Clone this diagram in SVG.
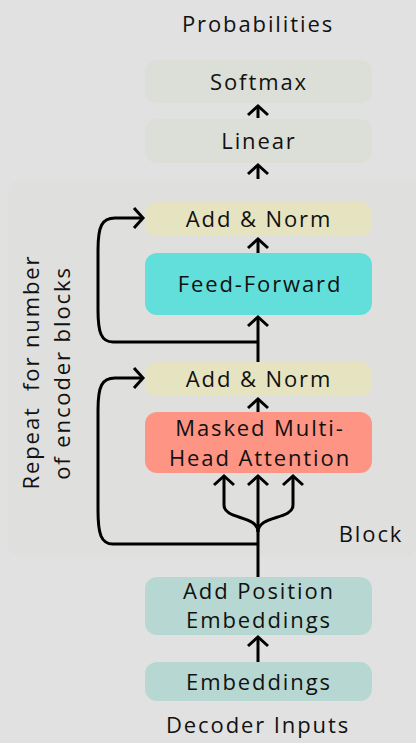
<svg xmlns="http://www.w3.org/2000/svg" width="416" height="743" viewBox="0 0 416 743">
<style>
  text { font-family: "Open Sans", "Lato", sans-serif; font-size: 22px; fill: #111; text-anchor: middle; letter-spacing: 1.9px; }
  .box { stroke: none; }
  .out { fill: #dcdfd7; }
  .norm { fill: #e6e4c0; }
  .ff { fill: #62dfda; }
  .att { fill: #fd9484; }
  .emb { fill: #b7d8d2; }
  .ln { fill: none; stroke: #000; stroke-width: 3; stroke-linejoin: round; }
  .hd { fill: none; stroke: #000; stroke-width: 3; stroke-linecap: butt; stroke-linejoin: miter; }
</style>
<rect x="0" y="0" width="416" height="743" fill="#e1e1e1"/>
<rect id="block-area" x="8" y="180" width="410" height="376" rx="12" fill="#dfe0dd"/>

<text id="probabilities" x="258" y="32">Probabilities</text>

<g id="softmax"><rect class="box out" x="145" y="60" width="227" height="43" rx="12"/><text x="259" y="90">Softmax</text></g>
<g id="linear"><rect class="box out" x="145" y="119" width="227" height="44" rx="12"/><text x="259" y="149">Linear</text></g>
<g id="addnorm2"><rect class="box norm" x="145" y="202" width="227" height="34" rx="12"/><text x="259" y="227">Add &amp; Norm</text></g>
<g id="feedforward"><rect class="box ff" x="145" y="253" width="227" height="62" rx="12"/><text x="260" y="292">Feed-Forward</text></g>
<g id="addnorm1"><rect class="box norm" x="145" y="362" width="227" height="34" rx="12"/><text x="259" y="387">Add &amp; Norm</text></g>
<g id="attention"><rect class="box att" x="145" y="412" width="227" height="61" rx="12"/><text x="260" y="436">Masked Multi-</text><text x="260" y="466">Head Attention</text></g>
<g id="posemb"><rect class="box emb" x="145" y="577" width="227" height="58" rx="12"/><text x="259" y="599">Add Position</text><text x="259" y="628">Embeddings</text></g>
<g id="embeddings"><rect class="box emb" x="145" y="662" width="227" height="39" rx="12"/><text x="259" y="690">Embeddings</text></g>

<text id="block-label" x="371" y="542">Block</text>
<text id="decoder-inputs" x="258" y="733">Decoder Inputs</text>
<g id="repeat-label">
  <text transform="translate(39,372) rotate(-90)" x="0" y="0" xml:space="preserve">Repeat  for number</text>
  <text transform="translate(70,373) rotate(-90)" x="0" y="0">of encoder blocks</text>
</g>

<g id="connectors">
  <path class="ln" d="M258,118 V107"/>
  <path class="hd" d="M248,115 L258,106 L268,115"/>
  <path class="ln" d="M258,179 V166"/>
  <path class="hd" d="M248,174 L258,165 L268,174"/>
  <path class="ln" d="M258,253 V240"/>
  <path class="hd" d="M248,248 L258,239 L268,248"/>
  <path class="ln" d="M258,362 V318"/>
  <path class="hd" d="M248,326 L258,317 L268,326"/>
  <path class="ln" d="M258,342 H113 C101,342 98,332 98,310 V250 C98,226 102,218 115,218 H142"/>
  <path class="hd" d="M134,208 L143,218 L134,228"/>
  <path class="ln" d="M258,412 V400"/>
  <path class="hd" d="M248,408 L258,399 L268,408"/>
  <path class="ln" d="M258,577 V478"/>
  <path class="hd" d="M248,485 L258,476 L268,485"/>
  <path class="ln" d="M224,478 V505 C224,520 258,515 258,532"/>
  <path class="hd" d="M214,485 L224,476 L234,485"/>
  <path class="ln" d="M293,478 V505 C293,520 258,515 258,532"/>
  <path class="hd" d="M283,485 L293,476 L303,485"/>
  <path class="ln" d="M258,544 H113 C101,544 98,534 98,510 V410 C98,386 102,378 115,378 H142"/>
  <path class="hd" d="M134,368 L143,378 L134,388"/>
  <path class="ln" d="M258,662 V638"/>
  <path class="hd" d="M248,646 L258,637 L268,646"/>
</g>
</svg>
